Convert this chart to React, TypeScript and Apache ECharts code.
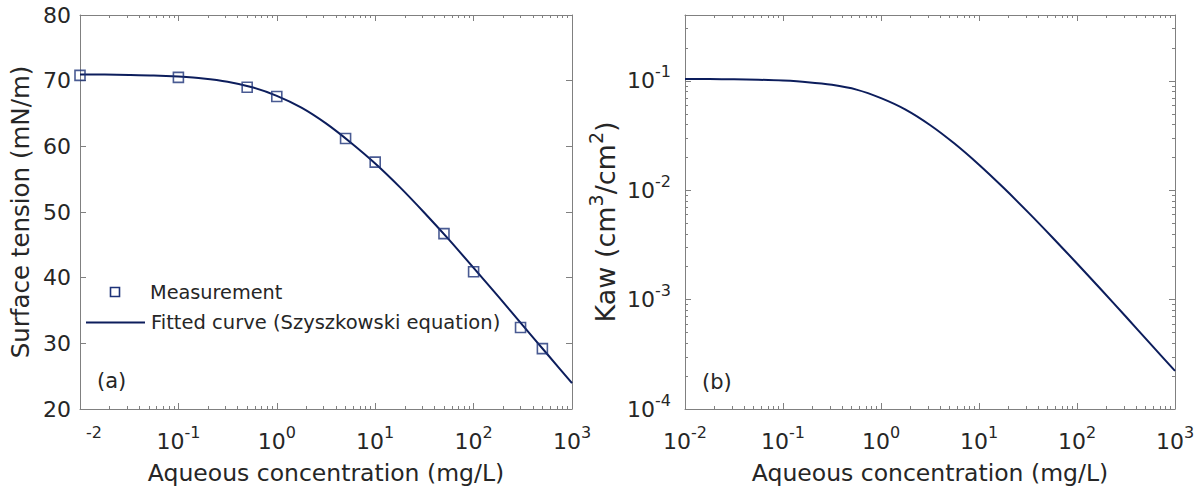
import React, { useEffect, useRef } from "react";
import * as echarts from "echarts";

// ---- data ----
const measConc = [0.01, 0.1, 0.5, 1, 5, 10, 50, 100, 300, 500];
const measTension = [70.8, 70.5, 69.0, 67.6, 61.2, 57.6, 46.7, 40.9, 32.4, 29.2];

const fitConc = [0.01, 0.0178, 0.0316, 0.0562, 0.1, 0.178, 0.316, 0.562, 1, 1.78, 3.16, 5.62, 10, 17.8, 31.6, 56.2, 100, 178, 316, 562, 1000];
const fitTension = [70.95, 70.93, 70.88, 70.8, 70.62, 70.34, 69.84, 68.99, 67.69, 65.89, 63.49, 60.59, 57.39, 53.79, 49.89, 45.79, 41.49, 37.14, 32.74, 28.34, 23.94];

const kawConc = [0.01, 0.0178, 0.0316, 0.0562, 0.1, 0.178, 0.316, 0.562, 1, 1.78, 3.16, 5.62, 10, 17.8, 31.6, 56.2, 100, 178, 316, 562, 1000];
const kawValues = [0.104, 0.1038, 0.1033, 0.1023, 0.1005, 0.0973, 0.092, 0.0832, 0.0695, 0.0546, 0.0395, 0.0267, 0.0171, 0.01052, 0.00631, 0.0037, 0.00214, 0.001225, 0.000697, 0.000394, 0.000223];

const xMajorTicks = [0.01, 0.1, 1, 10, 100, 1000];
const kawMajorTicks = [0.0001, 0.001, 0.01, 0.1];
const tensionTicks = [20, 30, 40, 50, 60, 70, 80];

const legendLabels = ["Measurement", "Fitted curve (Szyszkowski equation)"];
const panelLabels = ["(a)", "(b)"];
const xTitle = "Aqueous concentration (mg/L)";
const yTitleA = "Surface tension (mN/m)";
const yTitleB = "Kaw (cm{s|3}/cm{s|2})";

function minorTicks(loExp: number, hiExp: number): number[] {
  const out: number[] = [];
  for (let e = loExp; e < hiExp; e++) {
    for (let k = 2; k <= 9; k++) out.push(Number((k * Math.pow(10, e)).toPrecision(6)));
  }
  return out;
}
const xMinorTicks = minorTicks(-2, 3);
const kawMinorTicks = minorTicks(-4, -1).concat([0.2, 0.3]);

const FONT = '"DejaVu Sans", "Liberation Sans", Arial, sans-serif';
const TEXT = "#262626";
const AXIS = "#808080";
const NAVY = "#0c1d5c";
const MARK = "#1d3278";

const supRich = {
  b: { fontSize: 22, fontFamily: FONT, color: TEXT },
  s: { fontSize: 16, fontFamily: FONT, color: TEXT, padding: [0, 0, 18, 0] },
  h: { fontSize: 16, fontFamily: FONT, color: TEXT, padding: [0, 0, 18, 28] },
};

const expOf = (v: number) => Math.round(Math.log10(v));

function logX(gridIndex: number, position: string, ticks: number[], len: number, extra: any = {}) {
  return {
    type: "log",
    logBase: 10,
    gridIndex,
    position,
    min: 0.01,
    max: 1000,
    axisLine: { show: true, onZero: false, lineStyle: { color: AXIS, width: 1 } },
    axisTick: { show: true, inside: true, length: len, customValues: ticks, lineStyle: { color: AXIS, width: 1 } },
    axisLabel: { show: false },
    splitLine: { show: false },
    ...extra,
  };
}

function logY(gridIndex: number, position: string, ticks: number[], len: number, extra: any = {}) {
  return {
    type: "log",
    logBase: 10,
    gridIndex,
    position,
    min: 0.0001,
    max: 0.4,
    axisLine: { show: true, onZero: false, lineStyle: { color: AXIS, width: 1 } },
    axisTick: { show: true, inside: true, length: len, customValues: ticks, lineStyle: { color: AXIS, width: 1 } },
    axisLabel: { show: false },
    splitLine: { show: false },
    ...extra,
  };
}

function linY(gridIndex: number, position: string, extra: any = {}) {
  return {
    type: "value",
    gridIndex,
    position,
    min: 20,
    max: 80,
    interval: 10,
    axisLine: { show: true, onZero: false, lineStyle: { color: AXIS, width: 1 } },
    axisTick: { show: true, inside: true, length: 6, lineStyle: { color: AXIS, width: 1 } },
    axisLabel: { show: false },
    splitLine: { show: false },
    ...extra,
  };
}

const xName = (gap: number) => ({
  name: xTitle,
  nameLocation: "middle",
  nameGap: gap,
  nameTextStyle: { fontSize: 23.5, fontFamily: FONT, color: TEXT },
});

export default function App() {
  const ref = useRef<HTMLDivElement>(null);

  useEffect(() => {
    if (!ref.current) return;
    const chart = echarts.init(ref.current, undefined, { renderer: "svg" });

    const option: any = {
      animation: false,
      backgroundColor: "#ffffff",
      grid: [
        { left: 80, top: 15, width: 492, height: 394 },
        { left: 685, top: 15, width: 490, height: 394 },
      ],
      xAxis: [
        logX(0, "bottom", xMajorTicks, 6, {
          axisLabel: {
            show: true,
            customValues: xMajorTicks,
            margin: 15,
            formatter: (v: number) => {
              const e = expOf(v);
              return e === -2 ? `{h|${e}}` : `{b|10}{s|${e}}`;
            },
            rich: supRich,
          },
          ...xName(52),
        }),
        logX(0, "bottom", xMinorTicks, 3, { axisLine: { show: false } }),
        logX(0, "top", xMajorTicks, 6),
        logX(0, "top", xMinorTicks, 3, { axisLine: { show: false } }),
        logX(1, "bottom", xMajorTicks, 6, {
          axisLabel: {
            show: true,
            customValues: xMajorTicks,
            margin: 15,
            formatter: (v: number) => `{b|10}{s|${expOf(v)}}`,
            rich: supRich,
          },
          ...xName(52),
        }),
        logX(1, "bottom", xMinorTicks, 3, { axisLine: { show: false } }),
        logX(1, "top", xMajorTicks, 6),
        logX(1, "top", xMinorTicks, 3, { axisLine: { show: false } }),
      ],
      yAxis: [
        linY(0, "left", {
          axisLabel: {
            show: true,
            customValues: tensionTicks,
            margin: 9,
            fontSize: 22,
            fontFamily: FONT,
            color: TEXT,
          },
          name: yTitleA,
          nameLocation: "middle",
          nameGap: 47,
          nameTextStyle: { fontSize: 24.5, fontFamily: FONT, color: TEXT },
        }),
        linY(0, "right"),
        logY(1, "left", kawMajorTicks, 6, {
          axisLabel: {
            show: true,
            customValues: kawMajorTicks,
            margin: 14,
            formatter: (v: number) => `{b|10}{s|${expOf(v)}}`,
            rich: supRich,
          },
          name: yTitleB,
          nameLocation: "middle",
          nameGap: 60,
          nameTextStyle: {
            fontSize: 27,
            fontFamily: FONT,
            color: TEXT,
            padding: [0, 20, 0, 0],
            rich: { s: { fontSize: 19, fontFamily: FONT, color: TEXT, padding: [0, 0, 20, 0] } },
          },
        }),
        logY(1, "left", kawMinorTicks, 3, { axisLine: { show: false } }),
        logY(1, "right", kawMajorTicks, 6),
        logY(1, "right", kawMinorTicks, 3, { axisLine: { show: false } }),
      ],
      series: [
        {
          type: "line",
          name: legendLabels[1],
          xAxisIndex: 0,
          yAxisIndex: 0,
          data: fitConc.map((c, i) => [c, fitTension[i]]),
          smooth: 0.25,
          showSymbol: false,
          symbol: "none",
          lineStyle: { color: NAVY, width: 2 },
          z: 2,
        },
        {
          type: "scatter",
          name: legendLabels[0],
          xAxisIndex: 0,
          yAxisIndex: 0,
          data: measConc.map((c, i) => [c, measTension[i]]),
          symbol: "rect",
          symbolSize: 10,
          itemStyle: { color: "rgba(255,255,255,0)", borderColor: MARK, borderWidth: 1.6 },
          z: 3,
        },
        {
          type: "line",
          name: "Kaw",
          xAxisIndex: 4,
          yAxisIndex: 2,
          data: kawConc.map((c, i) => [c, kawValues[i]]),
          smooth: 0.25,
          showSymbol: false,
          symbol: "none",
          lineStyle: { color: NAVY, width: 2 },
          z: 2,
        },
      ],
      graphic: [
        {
          type: "rect",
          shape: { x: 110.5, y: 287.5, width: 9, height: 9 },
          style: { fill: "none", stroke: MARK, lineWidth: 1.6 },
        },
        {
          type: "text",
          x: 150,
          y: 292,
          style: { text: legendLabels[0], fontSize: 19.3, fontFamily: FONT, fill: TEXT, verticalAlign: "middle", align: "left" },
        },
        {
          type: "line",
          shape: { x1: 86, y1: 322.5, x2: 145, y2: 322.5 },
          style: { stroke: NAVY, lineWidth: 2 },
        },
        {
          type: "text",
          x: 151,
          y: 322.5,
          style: { text: legendLabels[1], fontSize: 19.5, fontFamily: FONT, fill: TEXT, verticalAlign: "middle", align: "left" },
        },
        {
          type: "text",
          x: 97,
          y: 381,
          style: { text: panelLabels[0], fontSize: 21, fontFamily: FONT, fill: TEXT, verticalAlign: "middle", align: "left" },
        },
        {
          type: "text",
          x: 702,
          y: 382,
          style: { text: panelLabels[1], fontSize: 21, fontFamily: FONT, fill: TEXT, verticalAlign: "middle", align: "left" },
        },
      ],
    };

    chart.setOption(option);
    return () => chart.dispose();
  }, []);

  return (
    <div
      ref={ref}
      style={{ position: "absolute", left: 0, top: 0, width: 1199, height: 493, background: "#fff" }}
    />
  );
}
